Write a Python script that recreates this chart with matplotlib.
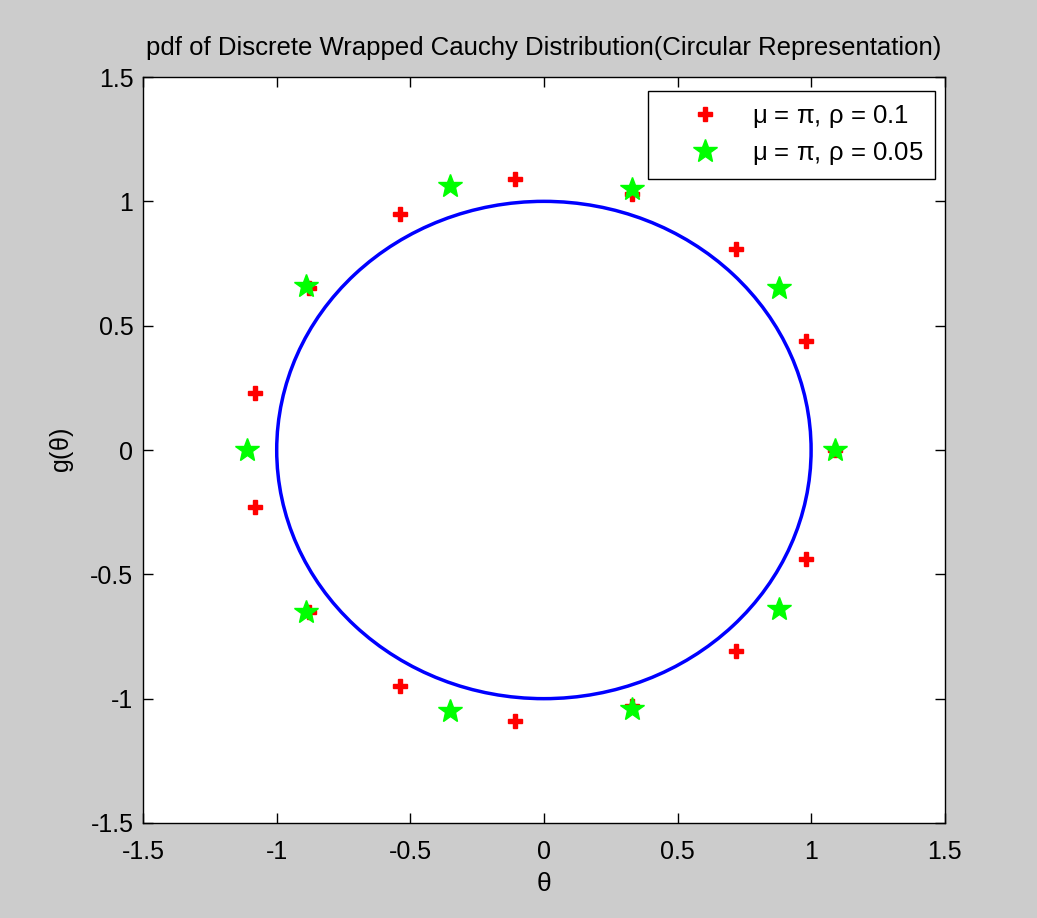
import matplotlib
matplotlib.use('Agg')
import matplotlib.pyplot as plt
from matplotlib.patches import Circle

plt.rcParams['font.family'] = ['Liberation Sans', 'DejaVu Sans']

# === dados ===
# rho = 0.1 (15 pontos)
x_rho01 = [1.09, 0.98, 0.72, 0.33, -0.11, -0.54, -0.88, -1.08,
           -1.08, -0.88, -0.54, -0.11, 0.33, 0.72, 0.98]
y_rho01 = [0.00, 0.44, 0.81, 1.03, 1.09, 0.95, 0.65, 0.23,
           -0.23, -0.65, -0.95, -1.09, -1.03, -0.81, -0.44]
# rho = 0.05 (10 pontos)
x_rho005 = [1.09, 0.88, 0.33, -0.35, -0.89, -1.11, -0.89, -0.35, 0.33, 0.88]
y_rho005 = [0.00, 0.65, 1.05, 1.06, 0.66, 0.00, -0.65, -1.05, -1.04, -0.64]

ticks = [-1.5, -1, -0.5, 0, 0.5, 1, 1.5]
tick_labels = ['-1.5', '-1', '-0.5', '0', '0.5', '1', '1.5']

fig = plt.figure(figsize=(10.37, 9.18), dpi=100, facecolor='#cccccc')
ax = fig.add_axes([0.138, 0.1035, 0.773, 0.8126])
ax.set_facecolor('white')

ax.add_patch(Circle((0, 0), 1, fill=False, edgecolor='#0000ff', linewidth=2.5))
ax.plot(x_rho01, y_rho01, 'P', color='red', markersize=10, linestyle='none',
        label=r'$\mathregular{\mu}$ = $\mathregular{\pi}$, $\mathregular{\rho}$ = 0.1')
ax.plot(x_rho005, y_rho005, '*', color='#00ff00', markersize=18, linestyle='none',
        label=r'$\mathregular{\mu}$ = $\mathregular{\pi}$, $\mathregular{\rho}$ = 0.05')

ax.set_xlim(-1.5, 1.5)
ax.set_ylim(-1.5, 1.5)
ax.set_xticks(ticks)
ax.set_xticklabels(tick_labels)
ax.set_yticks(ticks)
ax.set_yticklabels(tick_labels)
ax.tick_params(direction='in', length=7, width=1, top=True, right=True, labelsize=18)
ax.tick_params(axis='x', pad=12)
ax.tick_params(axis='y', pad=7)
for s in ax.spines.values():
    s.set_linewidth(1)

ax.set_title('pdf of Discrete Wrapped Cauchy Distribution(Circular Representation)',
             fontsize=18.5, pad=16)
ax.set_xlabel(r'$\mathregular{\theta}$', fontsize=19, labelpad=6)
ax.set_ylabel(r'g($\mathregular{\theta}$)', fontsize=18, labelpad=10)

leg = ax.legend(loc='upper right', bbox_to_anchor=(935 / 1037, 1 - 91 / 918),
                bbox_transform=fig.transFigure, fontsize=18.5, fancybox=False,
                framealpha=1, edgecolor='black', borderpad=0.45, handlelength=3.5,
                handletextpad=0.1, labelspacing=0.42, borderaxespad=0)
leg.get_frame().set_linewidth(1)

plt.savefig('out.png', dpi=100, facecolor=fig.get_facecolor())
